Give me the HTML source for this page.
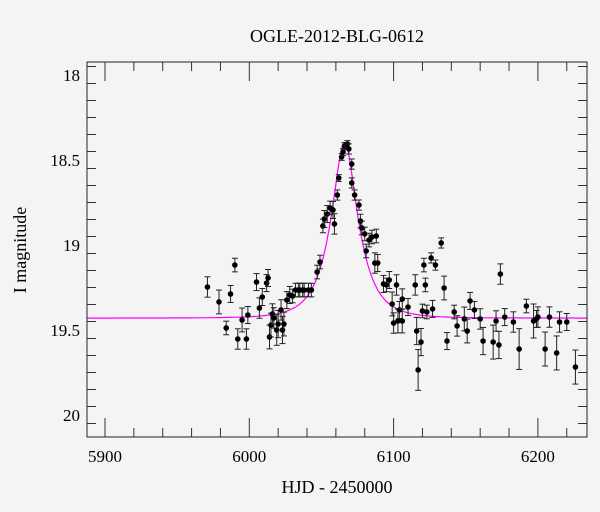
<!DOCTYPE html>
<html><head><meta charset="utf-8"><style>
body{margin:0;background:#f4f4f4;}
svg{display:block;font-family:"Liberation Serif",serif;}
</style></head><body>
<svg id="chart" width="600" height="512">
<rect width="600" height="512" fill="#f4f4f4"/>
<text x="337" y="42" text-anchor="middle" font-size="18">OGLE-2012-BLG-0612</text>
<text x="337" y="493" text-anchor="middle" font-size="18">HJD - 2450000</text>
<text x="26" y="250" text-anchor="middle" font-size="18" transform="rotate(-90 26 250)">I magnitude</text>
<g id="axes"></g>
<g id="model"></g>
<g id="points"></g>
<rect x="87" y="62" width="500" height="375" fill="none" stroke="#222" stroke-width="1"/>
</svg>
<script>
const hjd=[5971,5979,5984,5987,5990,5992,5995,5998,5999,6005,6007,6009,6012,6013,6014,6015,6016,6017,6019,6020,6022,6023,6024,6026,6028,6030,6032,6034,6035,6037,6038,6041,6043,6047,6049,6051,6052,6054,6056,6058,6059,6061,6062,6064,6065,6066,6068,6069,6071,6071,6073,6076,6077,6078,6080,6081,6083,6085,6087,6088,6089,6093,6095,6097,6099,6100,6102,6103,6104,6106,6106,6110,6115,6116,6117,6119,6120,6121,6122,6123,6126,6127,6129,6133,6135,6137,6142,6144,6149,6151,6153,6156,6160,6162,6169,6171,6173,6174,6177,6183,6187,6192,6197,6199,6200,6205,6208,6213,6215,6220,6226];
const mag=[19.247,19.335,19.488,19.288,19.118,19.553,19.441,19.553,19.412,19.218,19.371,19.306,19.224,19.194,19.541,19.471,19.406,19.429,19.5,19.465,19.382,19.5,19.465,19.324,19.294,19.3,19.265,19.265,19.265,19.265,19.265,19.265,19.265,19.159,19.1,18.888,18.847,18.818,18.782,18.794,18.876,18.706,18.606,18.482,18.453,18.418,18.406,18.435,18.524,18.635,18.706,18.765,18.859,18.9,18.935,19.035,18.971,18.953,19.106,18.947,19.106,19.229,19.235,19.206,19.347,19.459,19.235,19.447,19.382,19.318,19.447,19.365,19.235,19.506,19.735,19.571,19.388,19.118,19.235,19.394,19.076,19.376,19.118,18.988,19.253,19.565,19.394,19.476,19.435,19.506,19.329,19.382,19.435,19.565,19.571,19.447,19.588,19.171,19.424,19.453,19.612,19.359,19.447,19.435,19.424,19.612,19.424,19.635,19.453,19.453,19.718];
const err=[0.06,0.07,0.04,0.05,0.04,0.06,0.07,0.06,0.05,0.05,0.06,0.05,0.05,0.05,0.07,0.07,0.06,0.06,0.09,0.08,0.06,0.08,0.07,0.05,0.05,0.04,0.04,0.04,0.04,0.04,0.04,0.04,0.04,0.04,0.04,0.04,0.05,0.05,0.04,0.05,0.06,0.03,0.02,0.02,0.02,0.02,0.02,0.03,0.03,0.03,0.03,0.03,0.04,0.04,0.04,0.04,0.04,0.04,0.06,0.04,0.05,0.05,0.04,0.05,0.07,0.06,0.06,0.07,0.05,0.06,0.07,0.05,0.06,0.08,0.12,0.08,0.04,0.04,0.04,0.04,0.03,0.05,0.03,0.03,0.07,0.05,0.04,0.06,0.07,0.07,0.05,0.05,0.06,0.08,0.10,0.06,0.08,0.06,0.05,0.06,0.12,0.04,0.10,0.05,0.06,0.10,0.06,0.10,0.06,0.05,0.10];
const xTicks=[5900,6000,6100,6200];
const yTicks=[18,18.5,19,19.5,20];
const baseline=19.43, t0=6066, u0=0.41, tE=17.5;
const NS='http://www.w3.org/2000/svg';
const X=t=>105+(t-5900)*1.443;
const Y=m=>75+(m-18)*170;
function mk(tag,attrs,parent){const e=document.createElementNS(NS,tag);for(const k in attrs)e.setAttribute(k,attrs[k]);parent.appendChild(e);return e;}
const axes=document.getElementById('axes');
for(let t=5880;t<=6240;t+=20){const x=X(t);if(x<87||x>587)continue;const maj=t%100===0;const L=maj?19:9;
 const a=mk('line',{x1:x,y1:437,x2:x,y2:437-L,stroke:'#333'},axes);
 
 const b=mk('line',{x1:x,y1:62,x2:x,y2:62+L,stroke:'#333'},axes);
 }
for(let i=0;i<=22;i++){const m=17.95+i*0.1;const y=Y(m);if(y<62||y>437)continue;const maj=Math.abs(m*2-Math.round(m*2))<1e-6;const L=maj?19:9;
 const a=mk('line',{x1:87,y1:y,x2:87+L,y2:y,stroke:'#333'},axes);
 
 const b=mk('line',{x1:587,y1:y,x2:587-L,y2:y,stroke:'#333'},axes);
 }
xTicks.forEach(t=>{const e=mk('text',{x:X(t),y:462,'text-anchor':'middle','font-size':17},axes);e.textContent=t;
 });
yTicks.forEach(m=>{const e=mk('text',{x:80,y:Y(m)+6,'text-anchor':'end','font-size':17},axes);e.textContent=m;
 });
let d='';
for(let t=5880;t<=6240;t+=0.5){const u=Math.sqrt(u0*u0+((t-t0)/tE)**2);const A=(u*u+2)/(u*Math.sqrt(u*u+4));
 const m=baseline-2.5*Math.log10(A);const x=Math.max(87,Math.min(587,X(t)));d+=(d?'L':'M')+x.toFixed(1)+','+Y(m).toFixed(1);}
const mp=mk('path',{d:d,fill:'none',stroke:'#ff00ff','stroke-width':1.2},document.getElementById('model'));

const pts=document.getElementById('points');
hjd.forEach((t,i)=>{const x=X(t),y=Y(mag[i]),e=err[i]*170;
 const g=mk('g',{},pts);
 
 mk('line',{x1:x,y1:y-e,x2:x,y2:y+e,stroke:'#222','stroke-width':1},g);
 mk('line',{x1:x-3,y1:y-e,x2:x+3,y2:y-e,stroke:'#222','stroke-width':1},g);
 mk('line',{x1:x-3,y1:y+e,x2:x+3,y2:y+e,stroke:'#222','stroke-width':1},g);
 mk('circle',{cx:x,cy:y,r:2.8,fill:'#000'},g);});
</script>
</body></html>
